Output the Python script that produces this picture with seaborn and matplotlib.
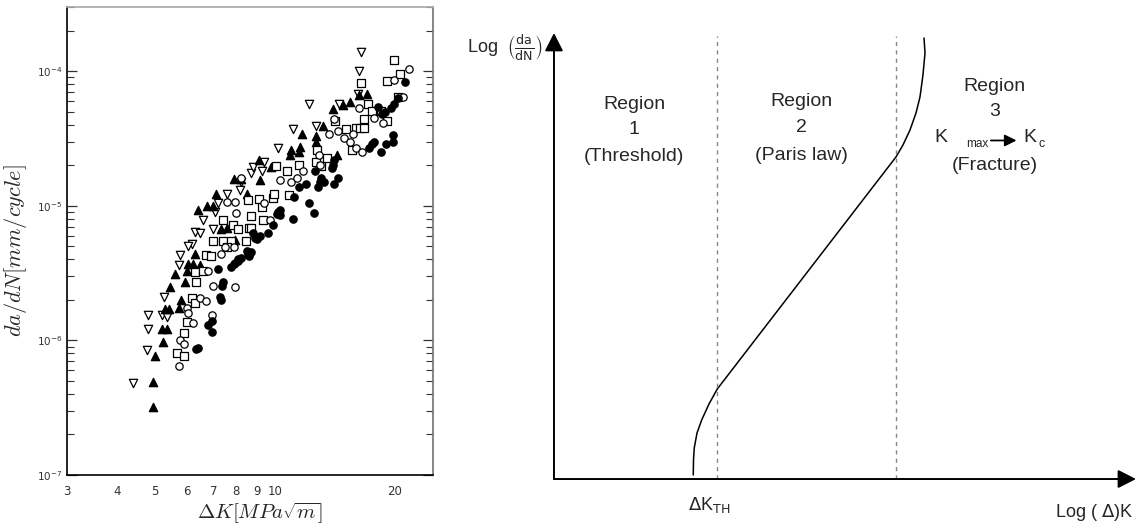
import seaborn as sns
import matplotlib.pyplot as plt
from matplotlib.ticker import NullLocator, FixedLocator, FixedFormatter

# ---- left panel: fatigue crack growth data (dK in MPa sqrt(m), da/dN in mm/cycle)
tri_open_dk = [4.40, 4.77, 4.80, 4.80, 5.20, 5.27, 5.75, 5.78, 6.18, 6.28, 6.50,
               6.60, 6.98, 7.07, 7.20, 7.60, 8.16, 8.20, 8.70, 8.80, 9.30, 9.40,
               10.2, 11.1, 12.2, 12.7, 14.5, 16.2, 16.3, 16.5, 5.35, 6.05]
tri_open_rate = [4.8e-7, 8.5e-7, 1.22e-6, 1.55e-6, 1.55e-6, 2.1e-6, 3.6e-6, 4.3e-6,
                 5.2e-6, 6.4e-6, 6.3e-6, 7.8e-6, 6.7e-6, 9.0e-6, 1.04e-5, 1.23e-5,
                 1.3e-5, 1.5e-5, 1.74e-5, 1.95e-5, 1.8e-5, 2.1e-5, 2.7e-5, 3.7e-5,
                 5.7e-5, 3.9e-5, 5.7e-5, 6.8e-5, 1.0e-4, 1.4e-4, 1.5e-6, 5.0e-6]

tri_fill_dk = [4.93, 4.93, 5.0, 5.22, 5.2, 5.35, 5.3, 5.42, 5.75, 5.8, 5.45, 5.62,
               5.95, 6.0, 6.05, 6.22, 6.5, 6.3, 6.42, 6.75, 7.0, 7.1, 7.3, 7.57,
               7.9, 8.2, 8.5, 9.1, 9.2, 9.8, 10.9, 11.0, 11.5, 11.6, 11.7, 12.7,
               12.7, 13.25, 14.0, 14.3, 14.8, 15.5, 16.3, 17.1, 7.95]
tri_fill_rate = [3.2e-7, 4.9e-7, 7.6e-7, 9.8e-7, 1.22e-6, 1.22e-6, 1.7e-6, 1.72e-6,
                 1.75e-6, 2.0e-6, 2.5e-6, 3.1e-6, 2.7e-6, 3.3e-6, 3.7e-6, 3.7e-6,
                 3.6e-6, 4.4e-6, 9.3e-6, 1.0e-5, 1.0e-5, 1.23e-5, 6.7e-6, 6.8e-6,
                 1.57e-5, 1.57e-5, 1.23e-5, 2.2e-5, 1.55e-5, 1.95e-5, 2.4e-5, 2.6e-5,
                 2.5e-5, 2.75e-5, 3.4e-5, 3.3e-5, 3.0e-5, 3.9e-5, 5.2e-5, 2.4e-5,
                 5.6e-5, 5.9e-5, 6.6e-5, 6.8e-5, 5.6e-6]

sq_open_dk = [5.68, 5.9, 5.9, 6.0, 6.18, 6.35, 6.3, 6.6, 6.7, 6.9, 6.98, 7.4, 7.4,
              7.85, 8.06, 7.77, 8.46, 8.6, 8.7, 8.57, 8.7, 9.1, 9.35, 9.3, 9.9,
              9.95, 10.06, 10.7, 10.85, 11.5, 12.7, 12.8, 13.1, 13.5, 14.2, 15.1,
              15.6, 16.0, 16.4, 16.8, 16.8, 17.2, 17.6, 18.5, 19.1, 16.5, 19.2,
              20.0, 20.6, 20.4, 7.6, 6.3]
sq_open_rate = [8.0e-7, 7.6e-7, 1.13e-6, 1.38e-6, 2.05e-6, 2.7e-6, 3.2e-6, 3.3e-6,
                4.3e-6, 4.2e-6, 5.5e-6, 5.5e-6, 7.8e-6, 7.2e-6, 6.7e-6, 5.5e-6,
                5.5e-6, 6.8e-6, 6.8e-6, 1.1e-5, 8.4e-6, 1.13e-5, 7.8e-6, 9.8e-6,
                1.14e-5, 1.23e-5, 1.97e-5, 1.8e-5, 1.2e-5, 2.0e-5, 2.1e-5, 2.6e-5,
                1.97e-5, 2.25e-5, 4.3e-5, 3.7e-5, 2.6e-5, 3.8e-5, 3.8e-5, 3.8e-5,
                4.4e-5, 5.7e-5, 5.1e-5, 5.1e-5, 4.3e-5, 8.1e-5, 8.5e-5, 1.22e-4,
                9.6e-5, 6.4e-5, 4.9e-6, 1.9e-6]

circ_open_dk = [5.73, 5.78, 5.9, 6.0, 6.06, 6.24, 6.5, 6.7, 6.95, 7.0, 7.93, 6.8,
                7.33, 7.5, 8.0, 7.6, 7.87, 7.93, 8.2, 9.4, 9.7, 10.3, 10.97, 11.4,
                11.8, 13.0, 13.7, 14.4, 14.9, 15.5, 15.7, 16.0, 16.6, 16.3, 17.8,
                18.7, 20.0, 21.0, 21.8, 12.9, 14.1]
circ_open_rate = [6.5e-7, 1.0e-6, 9.4e-7, 1.75e-6, 1.6e-6, 1.35e-6, 2.05e-6, 1.96e-6,
                  1.55e-6, 2.55e-6, 2.5e-6, 3.3e-6, 4.4e-6, 4.9e-6, 8.8e-6, 1.07e-5,
                  4.9e-6, 1.07e-5, 1.6e-5, 1.04e-5, 7.8e-6, 1.55e-5, 1.5e-5, 1.6e-5,
                  1.8e-5, 2.0e-5, 3.4e-5, 3.6e-5, 3.2e-5, 3.0e-5, 3.4e-5, 2.7e-5,
                  2.5e-5, 5.3e-5, 4.5e-5, 4.1e-5, 8.6e-5, 6.4e-5, 1.03e-4, 2.4e-5,
                  4.4e-5]

circ_fill_dk = [6.35, 6.4, 6.8, 6.95, 6.95, 7.27, 7.3, 7.36, 7.4, 7.2, 7.77, 7.87,
                7.95, 8.06, 8.2, 8.1, 8.5, 8.57, 8.6, 8.7, 8.8, 8.9, 9.0, 9.2, 9.6,
                9.9, 10.1, 10.2, 10.3, 10.3, 11.1, 11.2, 11.5, 12.0, 12.2, 12.55,
                12.6, 12.85, 13.1, 13.3, 13.9, 14.0, 14.1, 14.4, 14.1, 17.3, 17.6,
                17.8, 18.5, 19.0, 19.8, 19.8, 18.6, 18.9, 19.6, 19.9, 20.4, 21.2,
                18.2, 13.0]
circ_fill_rate = [8.6e-7, 8.8e-7, 1.3e-6, 1.15e-6, 1.4e-6, 2.1e-6, 2.0e-6, 2.55e-6,
                  2.7e-6, 3.4e-6, 3.5e-6, 3.7e-6, 3.75e-6, 3.9e-6, 4.1e-6, 4.0e-6,
                  4.6e-6, 4.4e-6, 4.2e-6, 4.5e-6, 6.3e-6, 5.8e-6, 5.7e-6, 6.0e-6,
                  6.3e-6, 7.2e-6, 8.7e-6, 9.0e-6, 9.3e-6, 8.6e-6, 8.0e-6, 1.17e-5,
                  1.37e-5, 1.45e-5, 1.04e-5, 8.8e-6, 1.8e-5, 1.38e-5, 1.6e-5, 1.5e-5,
                  1.9e-5, 2.0e-5, 1.45e-5, 1.6e-5, 2.2e-5, 2.7e-5, 2.9e-5, 3.0e-5,
                  2.5e-5, 2.9e-5, 3.0e-5, 3.35e-5, 4.8e-5, 5.0e-5, 5.3e-5, 5.7e-5,
                  6.3e-5, 8.3e-5, 5.4e-5, 1.5e-5]

x_ticks = [3, 4, 5, 6, 7, 8, 9, 10, 20]

# ---- right panel: schematic crack growth curve (normalised log dK, log da/dN)
curve_logk = [0.2385, 0.2389, 0.2402, 0.2449, 0.2529, 0.2654, 0.2796, 0.5856,
              0.5976, 0.6096, 0.6199, 0.6267, 0.6318, 0.6353, 0.6336]
curve_lograte = [0.009, 0.0426, 0.0695, 0.1031, 0.1323, 0.1682, 0.2018, 0.7220,
                 0.7489, 0.7825, 0.8206, 0.8565, 0.9058, 0.9552, 0.9888]
region_bounds = [0.2796, 0.5856]

sns.set_theme(style='ticks')
plt.rcParams['font.family'] = ['DejaVu Sans']
plt.rcParams['mathtext.fontset'] = 'cm'

fig = plt.figure(figsize=(11.38, 5.31), dpi=100)

# left panel
ax = fig.add_axes([0.0589, 0.1055, 0.3216, 0.8814])
ax.set(xscale='log', yscale='log')
series = [
    (tri_open_dk, tri_open_rate, 'v', 'white'),
    (tri_fill_dk, tri_fill_rate, '^', 'black'),
    (sq_open_dk, sq_open_rate, 's', 'white'),
    (circ_open_dk, circ_open_rate, 'o', 'white'),
    (circ_fill_dk, circ_fill_rate, 'o', 'black'),
]
for dk, rate, marker, face in series:
    size = 36 if marker in ('v', '^') else 28
    sns.scatterplot(x=dk, y=rate, marker=marker, color=face, edgecolor='black',
                    s=size, linewidth=0.9, ax=ax, zorder=3)

ax.set_xlim(3, 25)
ax.set_ylim(1e-7, 3e-4)
ax.xaxis.set_major_locator(FixedLocator(x_ticks))
ax.xaxis.set_major_formatter(FixedFormatter([str(t) for t in x_ticks]))
ax.xaxis.set_minor_locator(NullLocator())
ax.tick_params(axis='x', which='both', length=0, pad=7, labelsize=8.5,
               labelcolor='#333333')
ax.tick_params(axis='y', which='both', direction='in', left=True, right=True,
               labelsize=7.5, labelcolor='#333333', color='#333333')
ax.tick_params(axis='y', which='major', length=7, width=0.9)
ax.tick_params(axis='y', which='minor', length=5, width=0.8)
for side in ['left', 'bottom']:
    ax.spines[side].set_color('black')
    ax.spines[side].set_linewidth(1.2)
ax.spines['right'].set_color('#777777')
ax.spines['top'].set_color('#aaaaaa')
ax.set_xlabel(r'$\Delta K[MPa\sqrt{m}]$', fontsize=15)
ax.set_ylabel(r'$da/dN[mm/cycle]$', fontsize=16)
ax.xaxis.set_label_coords(0.527, -0.055)
ax.yaxis.set_label_coords(-0.105, 0.48)

# right panel
ax2 = fig.add_axes([0.4868, 0.0979, 0.5132, 0.840])
ax2.set_xlim(0, 1)
ax2.set_ylim(0, 1)
ax2.axis('off')
sns.lineplot(x=curve_logk, y=curve_lograte, sort=False, estimator=None,
             color='black', linewidth=1.1, ax=ax2)
ax2.vlines(region_bounds, 0, 0.993, colors='#888888', linewidth=1.0,
           linestyles=(0, (3, 3)))
head = dict(arrowstyle='-|>,head_length=0.55,head_width=0.28', color='black',
            lw=1.4, mutation_scale=20, shrinkA=0, shrinkB=0)
ax2.annotate('', xy=(0, 1.0), xytext=(0, 0), arrowprops=head)
ax2.annotate('', xy=(0.9966, 0), xytext=(0, 0), arrowprops=head)

txt = dict(ha='center', va='center', fontsize=14, family=['Liberation Sans', 'DejaVu Sans'])
for x, lines in [(0.137, [('Region', 0.839), ('1', 0.7825), ('(Threshold)', 0.724)]),
                 (0.423, [('Region', 0.846), ('2', 0.787), ('(Paris law)', 0.726)])]:
    for s, y in lines:
        ax2.text(x, y, s, **txt)
ax2.text(0.755, 0.879, 'Region', **txt)
ax2.text(0.755, 0.823, '3', **txt)
ax2.text(0.755, 0.704, '(Fracture)', **txt)
ax2.text(0.651, 0.766, 'K', ha='left', va='center', fontsize=14,
         family=['Liberation Sans'])
ax2.text(0.705, 0.752, 'max', ha='left', va='center', fontsize=8.5,
         family=['Liberation Sans'])
ax2.annotate('', xy=(0.792, 0.759), xytext=(0.748, 0.759),
             arrowprops=dict(arrowstyle='-|>,head_length=0.5,head_width=0.25',
                             color='black', lw=1.3, mutation_scale=14,
                             shrinkA=0, shrinkB=0))
ax2.text(0.803, 0.766, 'K', ha='left', va='center', fontsize=14,
         family=['Liberation Sans'])
ax2.text(0.829, 0.751, 'c', ha='left', va='center', fontsize=9,
         family=['Liberation Sans'])

ax2.text(0.265, -0.058, r'$\Delta$K$_{\mathrm{TH}}$', ha='center', va='center',
         fontsize=13, family=['Liberation Sans'], math_fontfamily='dejavusans')
ax2.text(0.991, -0.074, r'Log ( $\Delta$)K', ha='right', va='center',
         fontsize=13, family=['Liberation Sans'], math_fontfamily='dejavusans')
ax2.text(-0.02, 0.966, r'Log  $\left(\frac{\mathrm{da}}{\mathrm{dN}}\right)$',
         ha='right', va='center', fontsize=13, family=['Liberation Sans'],
         math_fontfamily='dejavusans')

fig.savefig('out.png', dpi=100, facecolor='white')
